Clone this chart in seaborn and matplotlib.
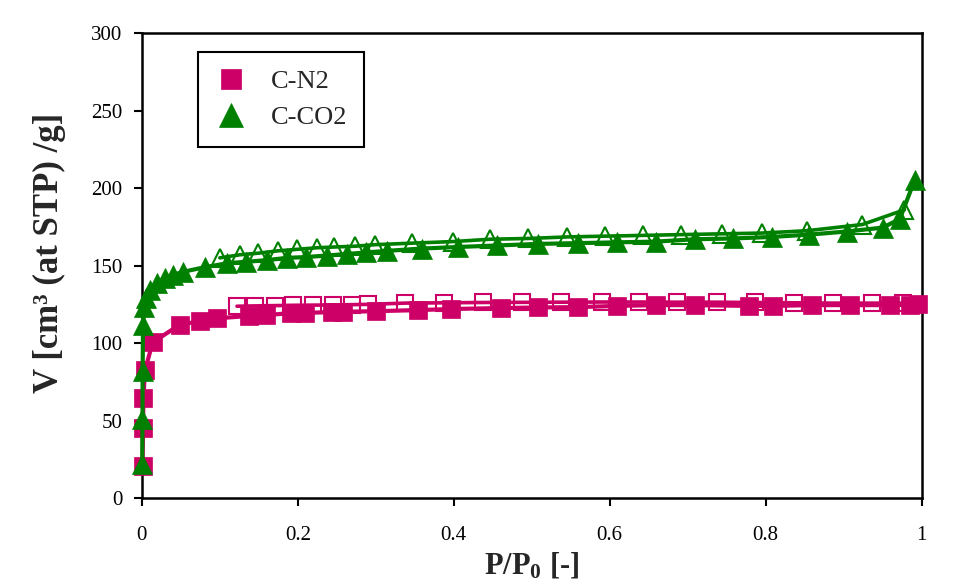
import matplotlib
matplotlib.use("Agg")
import matplotlib.pyplot as plt
import seaborn as sns

# C-N2 adsorption (filled) and desorption (open)
n2_ads_p = [0.001, 0.0015, 0.002, 0.004, 0.014, 0.049, 0.074, 0.097, 0.137, 0.159,
            0.191, 0.209, 0.244, 0.258, 0.300, 0.354, 0.397, 0.460, 0.508, 0.559,
            0.609, 0.659, 0.709, 0.779, 0.809, 0.859, 0.908, 0.959, 0.985, 0.995]
n2_ads_v = [21, 45, 64.5, 82.6, 100.5, 112, 114, 116, 117.5, 118,
            119.4, 119.5, 120, 120.2, 120.6, 121.3, 122, 122.6, 123, 123.2,
            124, 124.5, 124.5, 124, 124, 124.5, 124.5, 124.5, 124.8, 125]
n2_des_p = [0.976, 0.937, 0.886, 0.837, 0.786, 0.737, 0.686, 0.637, 0.590, 0.538,
            0.487, 0.437, 0.388, 0.338, 0.290, 0.269, 0.245, 0.219, 0.194, 0.171,
            0.145, 0.122]
n2_des_v = [125.8, 125.8, 125.8, 126, 126.2, 126.4, 126.4, 126.5, 126.5, 126.4,
            126.3, 126.2, 126, 125.8, 125, 124.8, 124.6, 124.5, 124.4, 124.2,
            124, 123.8]

# C-CO2 adsorption (filled) and desorption (open)
co2_ads_p = [0.0005, 0.0008, 0.001, 0.0015, 0.003, 0.005, 0.010, 0.020, 0.030, 0.040,
             0.053, 0.081, 0.109, 0.134, 0.160, 0.186, 0.210, 0.237, 0.263, 0.288,
             0.314, 0.359, 0.405, 0.456, 0.508, 0.559, 0.609, 0.660, 0.709, 0.758,
             0.808, 0.856, 0.904, 0.950, 0.972, 0.991]
co2_ads_v = [22, 51, 82, 112, 123, 129, 134, 139, 142, 144,
             146, 149, 151.5, 152.5, 153.5, 155, 155.5, 156.5, 157.5, 158.5,
             159.5, 161, 162, 163, 164, 164.5, 165, 165.5, 167, 167.5,
             168.5, 170, 172, 174.5, 180, 205]
co2_des_p = [0.978, 0.924, 0.853, 0.795, 0.744, 0.692, 0.643, 0.594, 0.545, 0.495,
             0.446, 0.399, 0.347, 0.299, 0.273, 0.247, 0.224, 0.199, 0.174, 0.149,
             0.126, 0.100]
co2_des_v = [186, 176.5, 172.5, 171, 170.5, 170, 169.5, 169, 168.5, 167.5,
             167, 165.5, 164.5, 163.5, 162.5, 162, 161.5, 160.5, 159.5, 158,
             157, 155]

x_ticks = [0, 0.2, 0.4, 0.6, 0.8, 1]
x_tick_labels = ["0", "0.2", "0.4", "0.6", "0.8", "1"]
y_ticks = [0, 50, 100, 150, 200, 250, 300]

n2_color = "#cc0066"
co2_color = "#008000"

sns.set_style("ticks")
plt.rcParams["font.family"] = ["Liberation Serif", "DejaVu Serif"]
plt.rcParams["mathtext.fontset"] = "custom"
plt.rcParams["mathtext.rm"] = "Liberation Serif"
plt.rcParams["mathtext.bf"] = "Liberation Serif:bold"
plt.rcParams["mathtext.default"] = "bf"

fig = plt.figure(figsize=(9.65, 5.86), dpi=100)
ax = fig.add_axes([0.147, 0.150, 0.808, 0.7935])

# desorption branches (open markers) first
sns.lineplot(x=n2_des_p, y=n2_des_v, sort=False, estimator=None, ax=ax,
             color=n2_color, linewidth=2.6, marker="s", markersize=12,
             markerfacecolor="none", markeredgecolor=n2_color, markeredgewidth=1.5)
sns.lineplot(x=co2_des_p, y=co2_des_v, sort=False, estimator=None, ax=ax,
             color=co2_color, linewidth=2.6, marker="^", markersize=13,
             markerfacecolor="none", markeredgecolor=co2_color, markeredgewidth=1.5)

# adsorption branches (filled markers)
sns.lineplot(x=n2_ads_p, y=n2_ads_v, sort=False, estimator=None, ax=ax,
             color=n2_color, linewidth=3, marker="s", markersize=13, clip_on=False,
             markeredgecolor=n2_color, markeredgewidth=0.5, label="C-N2")
sns.lineplot(x=co2_ads_p, y=co2_ads_v, sort=False, estimator=None, ax=ax,
             color=co2_color, linewidth=3, marker="^", markersize=14.5, clip_on=False,
             markeredgecolor=co2_color, markeredgewidth=0.5, label="C-CO2")

ax.set_xlim(0, 1)
ax.set_ylim(0, 300)
ax.set_xticks(x_ticks)
ax.set_xticklabels(x_tick_labels)
ax.set_yticks(y_ticks)
ax.tick_params(direction="out", length=6, width=1.5, labelsize=15, colors="black")
ax.tick_params(axis="x", pad=14)
ax.tick_params(axis="y", pad=8)
for side in ["top", "right", "bottom", "left"]:
    ax.spines[side].set_visible(True)
    ax.spines[side].set_color("black")
    ax.spines[side].set_linewidth(1.8)
    ax.spines[side].set_zorder(1)

ax.set_xlabel("P/P$_0$ [-]", fontsize=22, fontweight="bold", labelpad=4)
ax.set_ylabel("V [cm³ (at STP) /g]", fontsize=25, fontweight="bold")
ax.yaxis.set_label_coords(-0.097, 0.527)

leg = ax.legend(loc="upper left", bbox_to_anchor=(0.072, 0.959), borderaxespad=0,
                fontsize=19, frameon=True, fancybox=False, edgecolor="black",
                framealpha=1, handlelength=1.2, handletextpad=0.9, markerscale=1.15,
                borderpad=0.65, labelspacing=0.5)
leg.get_frame().set_linewidth(1.5)
for h in leg.legend_handles:
    h.set_linestyle("none")

fig.savefig("out.png", dpi=100)
